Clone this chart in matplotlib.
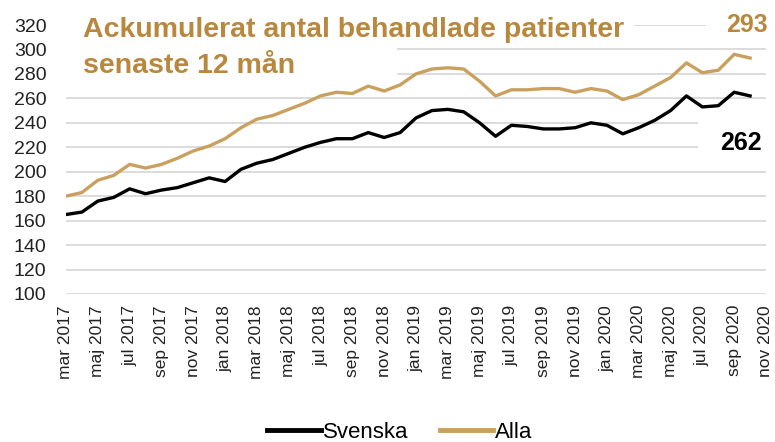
import matplotlib
matplotlib.use("Agg")
import matplotlib.pyplot as plt
from matplotlib.patches import Rectangle

plt.rcParams['font.family'] = ['Liberation Sans', 'DejaVu Sans']

# manader mar 2017 - okt 2020
svenska = [165, 167, 176, 179, 186, 182, 185, 187, 191, 195, 192, 202, 207, 210, 215,
           220, 224, 227, 227, 232, 228, 232, 244, 250, 251, 249, 240, 229, 238, 237,
           235, 235, 236, 240, 238, 231, 236, 242, 250, 262, 253, 254, 265, 262]
alla = [180, 183, 193, 197, 206, 203, 206, 211, 217, 221, 227, 236, 243, 246, 251,
        256, 262, 265, 264, 270, 266, 271, 280, 284, 285, 284, 274, 262, 267, 267,
        268, 268, 265, 268, 266, 259, 263, 270, 277, 289, 281, 283, 296, 293]

manader = ['jan', 'feb', 'mar', 'apr', 'maj', 'jun', 'jul', 'aug', 'sep', 'okt', 'nov', 'dec']
tick_labels = []
for k in range(0, 45, 2):
    m = (2 + k) % 12
    ar = 2017 + (2 + k) // 12
    tick_labels.append(manader[m] + ' ' + str(ar))

yticks = list(range(100, 321, 20))

guld_linje = '#C9A05E'
guld_text = '#B8883F'

fig = plt.figure(figsize=(7.75, 4.42), dpi=100)
ax = fig.add_axes([66/775, 1-294/442, 700/775, 269/442])

x = list(range(len(svenska)))
ax.plot(x, svenska, color='black', lw=2.4, label='Svenska', zorder=3)
ax.plot(x, alla, color=guld_linje, lw=2.4, label='Alla', zorder=3)

ax.set_xlim(0, 44)
ax.set_ylim(100, 320)
ax.set_yticks(yticks)
ax.set_xticks(range(0, 45, 2))
ax.set_xticklabels(tick_labels, rotation=90)
ax.tick_params(axis='both', length=0, colors='#222222')
ax.tick_params(axis='y', labelsize=14, pad=14)
ax.tick_params(axis='x', labelsize=12.5, pad=8)
ax.yaxis.grid(True, color='#d9d9d9', lw=1.3)
ax.set_axisbelow(True)
for s in ax.spines.values():
    s.set_visible(False)

# vita rutor bakom texterna
for (x0, y0, w, h) in [(-1, 302, 36.7, 25), (-1, 276, 21.8, 26),
                       (40.2, 305, 5, 22), (39.7, 212, 6, 38)]:
    ax.add_patch(Rectangle((x0, y0), w, h, facecolor='white', edgecolor='none',
                           zorder=1, clip_on=False))

fig.text(83/775, 1-37/442, 'Ackumulerat antal behandlade patienter', color=guld_text,
         fontsize=20.5, fontweight='bold', va='baseline')
fig.text(83/775, 1-73/442, 'senaste 12 mån', color=guld_text,
         fontsize=20.5, fontweight='bold', va='baseline')
fig.text(768/775, 1-32/442, '293', color=guld_text, fontsize=18,
         fontweight='bold', ha='right', va='baseline')
fig.text(762/775, 1-150/442, '262', color='black', fontsize=18,
         fontweight='bold', ha='right', va='baseline')

fig.legend(loc='center', bbox_to_anchor=(0.516, 0.022), ncol=2, frameon=False,
           fontsize=16, handlelength=2.4, handletextpad=0.1, columnspacing=1.4)
for lh in fig.legends[0].get_lines():
    lh.set_linewidth(3.5)

fig.savefig('out.png', dpi=100)
